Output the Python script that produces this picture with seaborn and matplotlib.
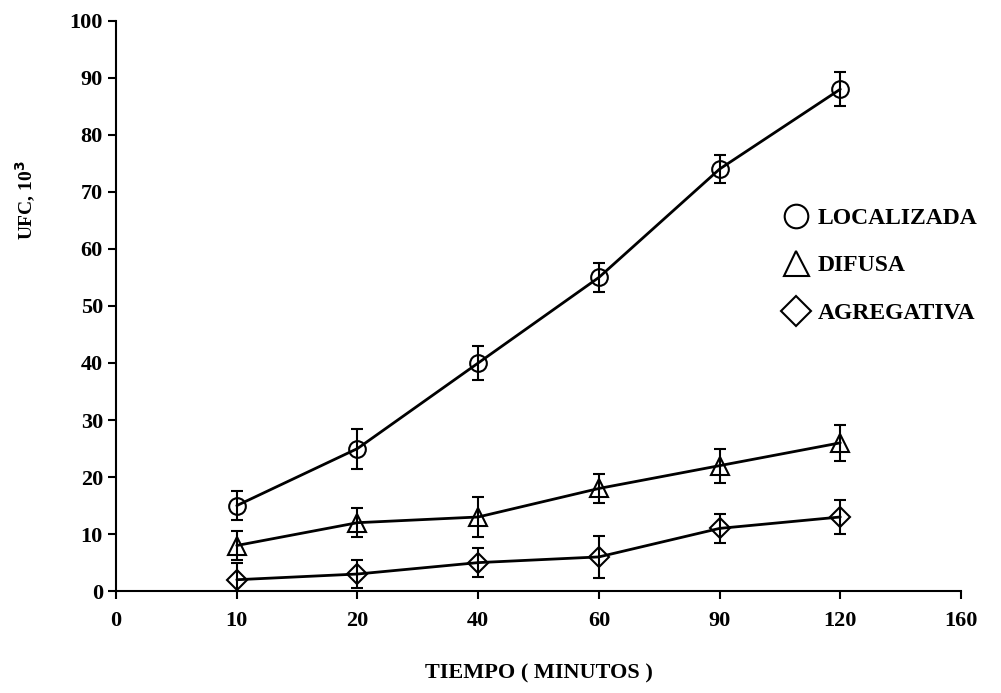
import numpy as np
import pandas as pd
import seaborn as sns
from matplotlib import pyplot as plt

# x axis is drawn as evenly spaced categories
tick_labels = ['0', '10', '20', '40', '60', '90', '120', '160']
tiempo = ['10', '20', '40', '60', '90', '120']

localizada = [15, 25, 40, 55, 74, 88]
localizada_err = [2.5, 3.5, 3.0, 2.5, 2.5, 3.0]
difusa = [8, 12, 13, 18, 22, 26]
difusa_err = [2.5, 2.5, 3.5, 2.5, 3.0, 3.2]
agregativa = [2, 3, 5, 6, 11, 13]
agregativa_err = [3.0, 2.5, 2.5, 3.7, 2.5, 3.0]

series = [
    ('LOCALIZADA', localizada, localizada_err, 'o', 12),
    ('DIFUSA', difusa, difusa_err, '^', 13),
    ('AGREGATIVA', agregativa, agregativa_err, 'D', 10),
]

sns.set_theme(style='ticks')
plt.rcParams['font.family'] = ['Liberation Serif', 'DejaVu Serif']
plt.rcParams['font.weight'] = 'bold'
plt.rcParams['text.color'] = 'black'
plt.rcParams['axes.labelcolor'] = 'black'

fig = plt.figure(figsize=(10.01, 6.93), dpi=100)
ax = fig.add_axes([0.116, 0.147, 0.844, 0.823])

pos = {lab: i for i, lab in enumerate(tick_labels)}
handles = []
for name, vals, errs, mk, ms in series:
    df = pd.DataFrame({'x': [pos[t] for t in tiempo], 'y': vals})
    sns.lineplot(data=df, x='x', y='y', ax=ax, color='black', linewidth=2.0,
                 marker=mk, markersize=ms, markerfacecolor='none',
                 markeredgecolor='black', markeredgewidth=1.5)
    ax.errorbar(df['x'], df['y'], yerr=errs, fmt='none', ecolor='black',
                elinewidth=1.5, capsize=4, capthick=1.5)
    h, = ax.plot([], [], linestyle='none', marker=mk, markersize=ms + 5,
                 markerfacecolor='none', markeredgecolor='black',
                 markeredgewidth=1.5)
    handles.append((h, name))

ax.set_xlim(0, 7)
ax.set_ylim(0, 100)
ax.set_xticks(range(len(tick_labels)))
ax.set_xticklabels(tick_labels)
ax.set_yticks(np.arange(0, 101, 10))
ax.tick_params(axis='both', labelsize=16, width=1.5, length=6, direction='out',
               colors='black')
ax.tick_params(axis='x', pad=8)
for lab in ax.get_xticklabels() + ax.get_yticklabels():
    lab.set_fontweight('bold')

for s in ['top', 'right']:
    ax.spines[s].set_visible(False)
for s in ['left', 'bottom']:
    ax.spines[s].set_linewidth(1.5)
    ax.spines[s].set_color('black')

ax.set_xlabel('TIEMPO ( MINUTOS )', fontsize=16, fontweight='bold', labelpad=24)
ax.set_ylabel('UFC, 10$^{\\mathbf{3}}$', fontsize=14, fontweight='bold')
ax.yaxis.set_label_coords(-0.092, 0.686)

leg = ax.legend([h for h, _ in handles], [n for _, n in handles],
                loc='upper left', bbox_to_anchor=(0.766, 0.71), frameon=False,
                prop={'size': 17, 'weight': 'bold'}, handlelength=1.0,
                handletextpad=0.4, labelspacing=1.1)

fig.savefig('out.png', dpi=100)
